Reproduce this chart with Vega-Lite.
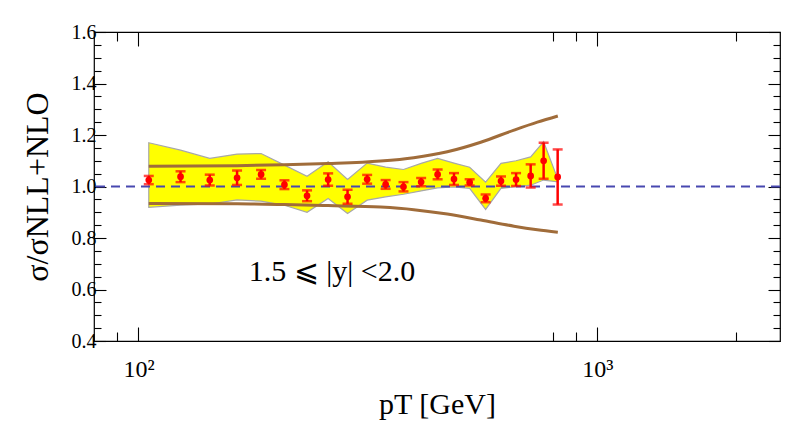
{
  "$schema": "https://vega.github.io/schema/vega-lite/v6.json",
  "width": 686,
  "height": 309,
  "autosize": {"type": "none"},
  "padding": {"left": 94, "top": 32, "right": 9, "bottom": 98},
  "background": "white",
  "config": {
    "view": {"stroke": "black", "strokeWidth": 1.2},
    "axis": {"labelFont": "Liberation Serif", "titleFont": "Liberation Serif", "labelColor": "black", "tickColor": "black", "domain": false, "grid": false, "titleColor": "black", "titleFontWeight": "normal", "tickWidth": 1.1}
  },
  "datasets": {
    "pts": [
      {"pT": 105.3, "y": 1.025, "err": 0.016, "bandHi": 1.170, "bandLo": 0.919},
      {"pT": 123.5, "y": 1.038, "err": 0.021, "bandHi": 1.141, "bandLo": 0.928},
      {"pT": 143, "y": 1.025, "err": 0.021, "bandHi": 1.109, "bandLo": 0.932},
      {"pT": 164, "y": 1.034, "err": 0.028, "bandHi": 1.126, "bandLo": 0.948},
      {"pT": 185, "y": 1.047, "err": 0.017, "bandHi": 1.128, "bandLo": 0.943},
      {"pT": 208, "y": 1.007, "err": 0.017, "bandHi": 1.083, "bandLo": 0.927},
      {"pT": 233, "y": 0.964, "err": 0.021, "bandHi": 1.040, "bandLo": 0.900},
      {"pT": 259, "y": 1.027, "err": 0.024, "bandHi": 1.096, "bandLo": 0.953},
      {"pT": 285.5, "y": 0.960, "err": 0.027, "bandHi": 1.027, "bandLo": 0.895},
      {"pT": 315, "y": 1.028, "err": 0.017, "bandHi": 1.091, "bandLo": 0.947},
      {"pT": 345.6, "y": 1.008, "err": 0.017, "bandHi": 1.075, "bandLo": 0.960},
      {"pT": 378, "y": 0.999, "err": 0.018, "bandHi": 1.066, "bandLo": 0.970},
      {"pT": 413, "y": 1.017, "err": 0.016, "bandHi": 1.090, "bandLo": 0.983},
      {"pT": 448.6, "y": 1.047, "err": 0.019, "bandHi": 1.109, "bandLo": 0.995},
      {"pT": 487, "y": 1.029, "err": 0.023, "bandHi": 1.091, "bandLo": 0.998},
      {"pT": 526.8, "y": 1.016, "err": 0.012, "bandHi": 1.075, "bandLo": 0.993},
      {"pT": 570.8, "y": 0.954, "err": 0.015, "bandHi": 1.017, "bandLo": 0.911},
      {"pT": 616.5, "y": 1.021, "err": 0.018, "bandHi": 1.090, "bandLo": 0.993},
      {"pT": 665, "y": 1.027, "err": 0.025, "bandHi": 1.100, "bandLo": 0.999},
      {"pT": 715.5, "y": 1.041, "err": 0.045, "bandHi": 1.115, "bandLo": 1.005},
      {"pT": 763.6, "y": 1.100, "err": 0.070, "bandHi": 1.174, "bandLo": 1.025},
      {"pT": 819.3, "y": 1.037, "err": 0.107, "bandHi": 1.030, "bandLo": 1.018}
    ],
    "curves": [
      {"pT": 105.3, "upper": 1.079, "lower": 0.934},
      {"pT": 164, "upper": 1.081, "lower": 0.933},
      {"pT": 208, "upper": 1.084, "lower": 0.930},
      {"pT": 259, "upper": 1.089, "lower": 0.926},
      {"pT": 337, "upper": 1.099, "lower": 0.920},
      {"pT": 398, "upper": 1.112, "lower": 0.910},
      {"pT": 471, "upper": 1.135, "lower": 0.893},
      {"pT": 557, "upper": 1.172, "lower": 0.870},
      {"pT": 658, "upper": 1.219, "lower": 0.846},
      {"pT": 740, "upper": 1.250, "lower": 0.832},
      {"pT": 820, "upper": 1.274, "lower": 0.822}
    ],
    "one": [{}]
  },
  "resolve": {"axis": {"x": "independent", "y": "independent"}},
  "layer": [
    {
      "data": {"name": "pts"},
      "mark": {"type": "area", "color": "#ffff00", "stroke": "#a8a8a8", "strokeWidth": 1.2, "opacity": 1},
      "encoding": {
        "x": {"field": "pT", "type": "quantitative", "scale": {"type": "log", "domain": [80, 2500], "nice": false},
          "axis": {"orient": "bottom", "values": [90, 100, 800, 900, 1000, 2000],
            "labelExpr": "datum.value==100?'10²':datum.value==1000?'10³':''",
            "tickSize": {"condition": {"test": "datum.value==100||datum.value==1000", "value": -14}, "value": -9},
            "labelFontSize": 24, "labelPadding": 30, "title": "pT [GeV]", "titleFontSize": 30, "titlePadding": 8}},
        "y": {"field": "bandHi", "type": "quantitative", "scale": {"domain": [0.4, 1.6], "nice": false, "zero": false},
          "axis": {"orient": "left", "values": [0.4,0.45,0.5,0.55,0.6,0.65,0.7,0.75,0.8,0.85,0.9,0.95,1.0,1.05,1.1,1.15,1.2,1.25,1.3,1.35,1.4,1.45,1.5,1.55,1.6],
            "labelExpr": "abs(datum.value*5-round(datum.value*5))<0.01 ? format(datum.value,'.1f') : ''",
            "tickSize": {"condition": {"test": "abs(datum.value*5-round(datum.value*5))<0.01", "value": -12}, "value": -7},
            "labelFontSize": 20, "labelPadding": 10, "title": "σ/σNLL+NLO", "titleFontSize": 32, "titlePadding": 17}},
        "y2": {"field": "bandLo"}
      }
    },
    {
      "data": {"name": "curves"},
      "mark": {"type": "line", "color": "#a06c3a", "strokeWidth": 3, "interpolate": "monotone"},
      "encoding": {
        "x": {"field": "pT", "type": "quantitative",
          "axis": {"orient": "top", "values": [90, 100, 800, 900, 1000, 2000], "labels": false, "title": null,
            "tickSize": {"condition": {"test": "datum.value==100||datum.value==1000", "value": -14}, "value": -9}}},
        "y": {"field": "upper", "type": "quantitative",
          "axis": {"orient": "right", "values": [0.4,0.45,0.5,0.55,0.6,0.65,0.7,0.75,0.8,0.85,0.9,0.95,1.0,1.05,1.1,1.15,1.2,1.25,1.3,1.35,1.4,1.45,1.5,1.55,1.6], "labels": false, "title": null,
            "tickSize": {"condition": {"test": "abs(datum.value*5-round(datum.value*5))<0.01", "value": -12}, "value": -7}}}
      }
    },
    {
      "data": {"name": "curves"},
      "mark": {"type": "line", "color": "#a06c3a", "strokeWidth": 3, "interpolate": "monotone"},
      "encoding": {
        "x": {"field": "pT", "type": "quantitative", "axis": null},
        "y": {"field": "lower", "type": "quantitative", "axis": null}
      }
    },
    {
      "data": {"name": "one"},
      "mark": {"type": "rule", "color": "#4848b0", "strokeWidth": 2, "strokeDash": [9, 6]},
      "encoding": {"y": {"datum": 1.0, "type": "quantitative", "axis": null}}
    },
    {
      "data": {"name": "pts"},
      "mark": {"type": "errorbar", "color": "#ff0000", "thickness": 2.5, "ticks": {"size": 10, "thickness": 2.5}},
      "encoding": {
        "x": {"field": "pT", "type": "quantitative", "axis": null},
        "y": {"field": "y", "type": "quantitative", "axis": null},
        "yError": {"field": "err"}
      }
    },
    {
      "data": {"name": "pts"},
      "mark": {"type": "circle", "color": "#ff0000", "size": 45, "opacity": 1},
      "encoding": {
        "x": {"field": "pT", "type": "quantitative", "axis": null},
        "y": {"field": "y", "type": "quantitative", "axis": null}
      }
    },
    {
      "data": {"name": "one"},
      "mark": {"type": "text", "font": "Liberation Serif, DejaVu Serif, serif", "fontSize": 30, "color": "black"},
      "encoding": {
        "x": {"datum": 264, "type": "quantitative", "axis": null},
        "y": {"datum": 0.667, "type": "quantitative", "axis": null},
        "text": {"value": "1.5 ⩽ |y| <2.0"}
      }
    }
  ]
}
